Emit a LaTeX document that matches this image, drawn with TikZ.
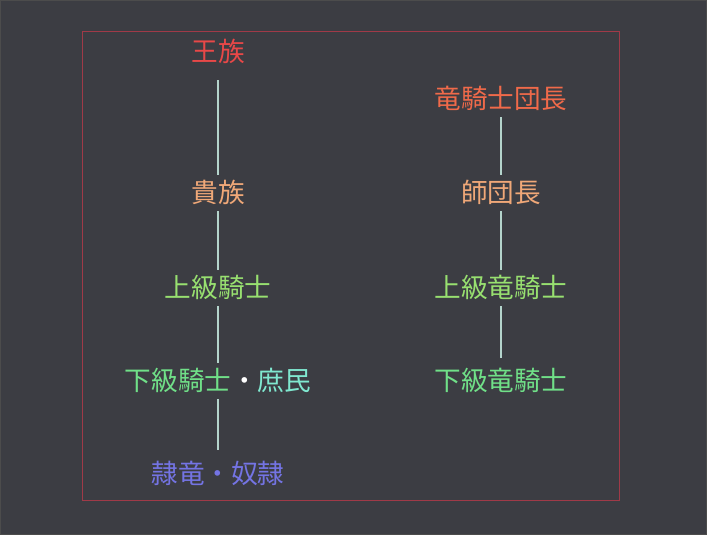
\documentclass[tikz,border=0pt]{standalone}
\usepackage{fontspec}
\setmainfont{Noto Sans CJK JP}
\begin{document}
\begin{tikzpicture}[x=1pt,y=-1pt,
  lbl/.style={font=\fontsize{26.6}{30}\selectfont, inner sep=0pt, text height=22pt, text depth=2.2pt, minimum height=36pt},
  conn/.style={draw=linec, line width=2pt}]
\definecolor{bgc}{HTML}{3C3D43}
\definecolor{framec}{HTML}{A03A48}
\definecolor{linec}{HTML}{B4D4CC}
\definecolor{cRoyal}{HTML}{E84848}
\definecolor{cDragonLead}{HTML}{F06A4A}
\definecolor{cNoble}{HTML}{F0A878}
\definecolor{cUpper}{HTML}{98E070}
\definecolor{cLower}{HTML}{70E088}
\definecolor{cCommon}{HTML}{80E8D0}
\definecolor{cSlave}{HTML}{7474E4}
\fill[bgc] (0,0) rectangle (707,535);
\draw[black!70, line width=1pt] (0.5,0.5) rectangle (706.5,534.5);
\useasboundingbox (0,0) rectangle (707,535);
\draw[framec, line width=1pt] (82.5,31.5) rectangle (619.5,500.5);
% left column
\node[lbl, text=cRoyal] (royal) at (218,52) {王族};
\node[lbl, text=cNoble] (noble) at (218,193) {貴族};
\node[lbl, text=cUpper] (upper) at (218,288) {上級騎士};
\node[lbl] (lower) at (218,381) {\textcolor{cLower}{下級騎士}\textcolor{white}{・}\textcolor{cCommon}{庶民}};
\node[lbl, text=cSlave] (slave) at (218,474) {隷竜・奴隷};
% right column
\node[lbl, text=cDragonLead] (dlead) at (501,99) {竜騎士団長};
\node[lbl, text=cNoble] (div) at (501,193) {師団長};
\node[lbl, text=cUpper] (dupper) at (501,288) {上級竜騎士};
\node[lbl, text=cLower] (dlower) at (501,381) {下級竜騎士};
% connectors
\draw[conn, shorten <=10pt] (royal.south) -- (noble.north);
\draw[conn] (noble.south) -- (upper.north);
\draw[conn] (upper.south) -- (lower.north);
\draw[conn, shorten >=6pt] (lower.south) -- (slave.north);
\draw[conn] (dlead.south) -- (div.north);
\draw[conn] (div.south) -- (dupper.north);
\draw[conn, shorten >=5pt] (dupper.south) -- (dlower.north);
\end{tikzpicture}
\end{document}
